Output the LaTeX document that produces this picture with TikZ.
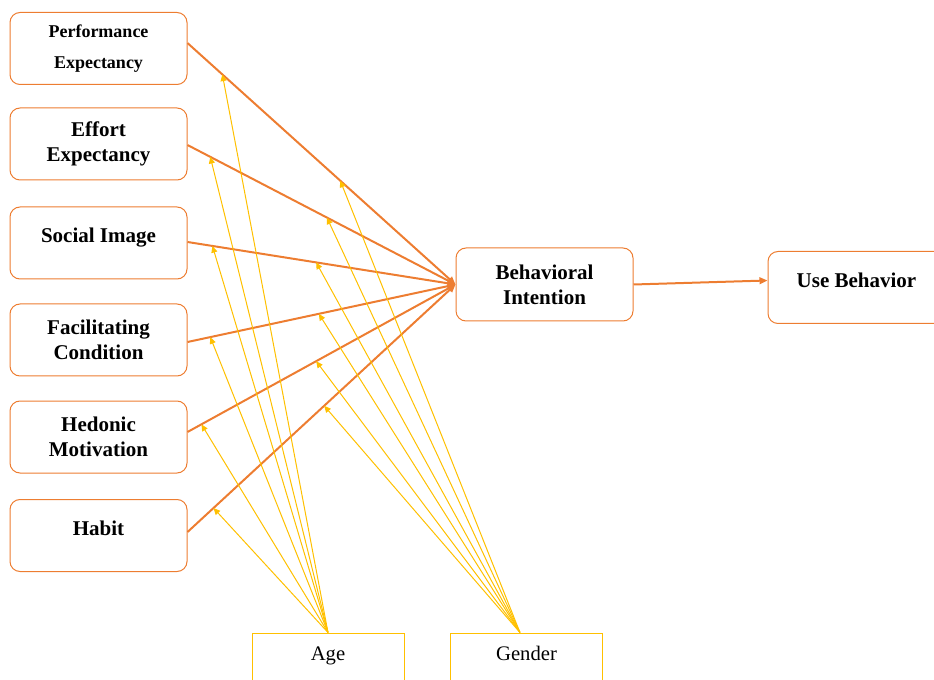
\documentclass[tikz,border=0pt]{standalone}
\usepackage{fontspec}
\setmainfont{Liberation Serif}
\usetikzlibrary{arrows.meta}
\definecolor{orangeline}{RGB}{237,125,49}
\definecolor{goldline}{RGB}{255,192,0}

\begin{document}
\begin{tikzpicture}[x=0.75pt,y=0.75pt,yscale=-1,xscale=1,
    factor/.style={draw=orangeline, line width=0.75pt, rounded corners=7.5pt, inner sep=0pt,
        minimum width=132.75pt, minimum height=54pt, font=\bfseries\fontsize{15.75}{18.75}\selectfont},
    twoline/.style={align=center},
    oneline/.style={text height=0.7em, text depth=0.7em},
    moderator/.style={draw=goldline, line width=0.75pt, inner sep=0pt, minimum width=114pt,
        minimum height=45pt, font=\fontsize{15.5}{18}\selectfont, text height=0.7em, text depth=1.1em},
    effect/.style={draw=orangeline, line width=1.5pt, -{Triangle[length=6pt,width=5pt]}},
    moderation/.style={draw=goldline, line width=0.75pt, -{Triangle[length=5pt,width=4.5pt]}}]
    \useasboundingbox (0,0) rectangle (934,680);
    \clip (0,0) rectangle (934,680);

    %Shape: Rounded boxes, predictors
    \node [factor, twoline, font=\bfseries\fontsize{13.5}{23.25}\selectfont] (pe) at (98.5,48.5) {Performance\\Expectancy};
    \node [factor, twoline] (ee) at (98.5,144) {Effort\\Expectancy};
    \node [factor, oneline] (si) at (98.5,243) {Social Image};
    \node [factor, twoline] (fc) at (98.5,340) {Facilitating\\Condition};
    \node [factor, twoline] (hm) at (98.5,437) {Hedonic\\Motivation};
    \node [factor, oneline] (hb) at (98.5,535.5) {Habit};
    %Shape: Rounded boxes, outcomes
    \node [factor, twoline, minimum height=54.75pt] (bi) at (544.5,284.5) {Behavioral\\Intention};
    \node [factor, oneline] (ub) at (856.5,287.5) {Use Behavior};
    %Shape: Moderators
    \node [moderator] (age) at (328,663) {Age};
    \node [moderator] (gen) at (526.5,663) {Gender};
    \coordinate (gen-top) at ([xshift=-4.9pt]gen.north);

    %Straight Lines: effects on intention (yshift runs downwards here)
    \foreach \src/\dy/\pa/\pg in {pe/-4.1/0.13/0.57, ee/0.75/0.085/0.52, si/-0.75/0.093/0.48,
        fc/1.5/0.085/0.49, hm/-3.75/0.052/0.48, hb/-2.6/0.097/0.51}{
        \draw [effect] ([yshift=\dy pt]\src.east) -- (bi.west) coordinate[pos=\pa] (\src-a) coordinate[pos=\pg] (\src-g);
    }
    \draw [effect] (bi.east) -- ([yshift=-5.25pt]ub.west);

    %Straight Lines: moderating effects
    \foreach \src in {pe,ee,si,fc,hm,hb}{
        \draw [moderation] (age.north) -- (\src-a);
        \draw [moderation] (gen-top) -- (\src-g);
    }

\end{tikzpicture}
\end{document}
